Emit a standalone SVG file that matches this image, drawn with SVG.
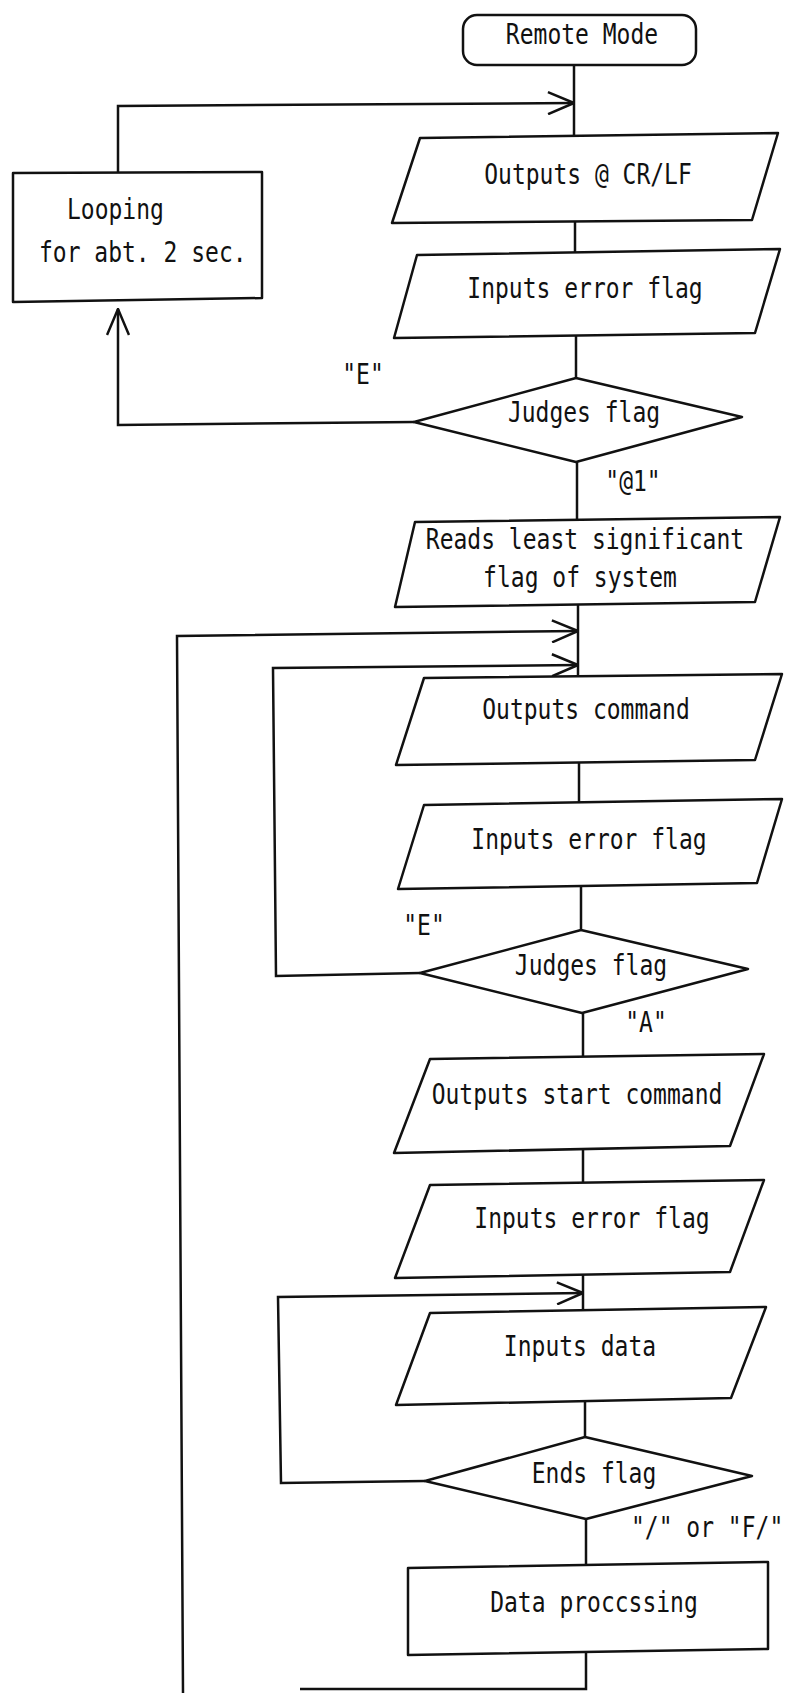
<svg xmlns="http://www.w3.org/2000/svg" width="785" height="1693" viewBox="0 0 785 1693">
<style>
.n { fill: #fff; stroke: #111; stroke-width: 2.5; stroke-linejoin: round; }
.c { fill: none; stroke: #111; stroke-width: 2.5; }
.t { font-family: "DejaVu Sans Mono", "Liberation Mono", monospace; font-size: 23px; fill: #111; text-anchor: middle; transform-box: fill-box; transform-origin: 50% 50%; transform: scaleY(1.2); }
.s { text-anchor: start; }
</style>
<defs>
<marker id="ah" viewBox="0 0 28 24" refX="27" refY="12" markerWidth="28" markerHeight="24" markerUnits="userSpaceOnUse" orient="auto">
<path d="M1,1 L27,12 L1,23" fill="none" stroke="#111" stroke-width="2.5"/>
</marker>
</defs>
<rect width="785" height="1693" fill="#fff"/>
<g id="connectors">
<line class="c" x1="574" y1="65" x2="574" y2="136"/>
<line class="c" x1="575" y1="221" x2="575" y2="253"/>
<line class="c" x1="576" y1="335" x2="576" y2="378"/>
<line class="c" x1="577" y1="462" x2="577" y2="520"/>
<line class="c" x1="578" y1="604" x2="578" y2="677"/>
<line class="c" x1="579" y1="762" x2="579" y2="803"/>
<line class="c" x1="581" y1="886" x2="581" y2="930"/>
<line class="c" x1="583" y1="1013" x2="583" y2="1057"/>
<line class="c" x1="583" y1="1150" x2="583" y2="1183"/>
<line class="c" x1="583" y1="1275" x2="583" y2="1311"/>
<line class="c" x1="585" y1="1402" x2="585" y2="1437"/>
<line class="c" x1="586" y1="1519" x2="586" y2="1566"/>
<polyline class="c" points="586,1652 586,1689 300,1689"/>
<polyline class="c" points="118,173 118,106 574,103" marker-end="url(#ah)"/>
<polyline class="c" points="414,422 118,425 118,309" marker-end="url(#ah)"/>
<polyline class="c" points="183,1693 177,636 578,631" marker-end="url(#ah)"/>
<polyline class="c" points="420,973 276,976 273,668 578,665" marker-end="url(#ah)"/>
<polyline class="c" points="425,1481 281,1483 278,1297 583,1293" marker-end="url(#ah)"/>
</g>
<g id="remote-mode">
<rect class="n" x="463" y="15" width="233" height="50" rx="14"/>
<text class="t" x="582" y="42">Remote Mode</text>
</g>
<g id="looping">
<polygon class="n" points="13,173 262,172 262,298 13,302"/>
<text class="t s" x="67" y="217">Looping</text>
<text class="t s" x="39" y="260">for abt. 2 sec.</text>
</g>
<g id="outputs-crlf">
<polygon class="n" points="420,138 778,133 752,220 392,223"/>
<text class="t" x="588" y="182">Outputs @ CR/LF</text>
</g>
<g id="inputs-error-1">
<polygon class="n" points="417,255 780,249 755,333 394,338"/>
<text class="t" x="585" y="296">Inputs error flag</text>
</g>
<g id="judges-1">
<polygon class="n" points="576,378 742,417 576,462 414,422"/>
<text class="t" x="584" y="420">Judges flag</text>
<text class="t" x="363" y="382">"E"</text>
<text class="t" x="633" y="489">"@1"</text>
</g>
<g id="reads-flag">
<polygon class="n" points="415,522 780,517 755,602 395,607"/>
<text class="t" x="585" y="547">Reads least significant</text>
<text class="t" x="580" y="585">flag of system</text>
</g>
<g id="outputs-command">
<polygon class="n" points="424,678 782,674 755,760 396,765"/>
<text class="t" x="586" y="717">Outputs command</text>
</g>
<g id="inputs-error-2">
<polygon class="n" points="424,805 782,799 757,883 398,889"/>
<text class="t" x="589" y="847">Inputs error flag</text>
</g>
<g id="judges-2">
<polygon class="n" points="581,930 748,969 582,1013 420,973"/>
<text class="t" x="591" y="973">Judges flag</text>
<text class="t" x="424" y="933">"E"</text>
<text class="t" x="646" y="1030">"A"</text>
</g>
<g id="outputs-start">
<polygon class="n" points="430,1059 764,1054 730,1146 394,1153"/>
<text class="t" x="577" y="1102">Outputs start command</text>
</g>
<g id="inputs-error-3">
<polygon class="n" points="430,1185 764,1180 730,1272 395,1278"/>
<text class="t" x="592" y="1226">Inputs error flag</text>
</g>
<g id="inputs-data">
<polygon class="n" points="430,1313 766,1307 731,1398 396,1405"/>
<text class="t" x="580" y="1354">Inputs data</text>
</g>
<g id="ends-flag">
<polygon class="n" points="585,1437 752,1476 586,1519 425,1481"/>
<text class="t" x="594" y="1481">Ends flag</text>
<text class="t s" x="631" y="1535">"/" or "F/"</text>
</g>
<g id="data-processing">
<polygon class="n" points="408,1568 768,1562 768,1649 408,1655"/>
<text class="t" x="594" y="1610">Data proccssing</text>
</g>
</svg>
